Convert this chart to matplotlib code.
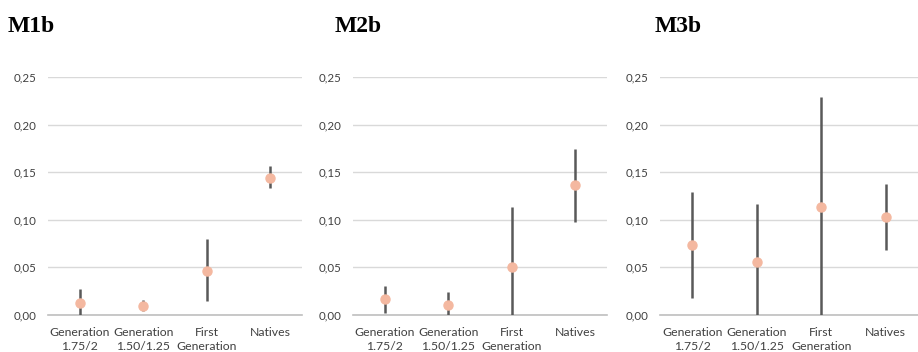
import matplotlib.pyplot as plt
import numpy as np

plt.rcParams['font.family'] = ['Lato', 'DejaVu Sans']

categories = ["Generation\n1.75/2", "Generation\n1.50/1.25", "First\nGeneration", "Natives"]
titles = ["M1b", "M2b", "M3b"]

# point estimates and interval limits per model
m1_est = [0.0123, 0.0094, 0.0464, 0.1444]
m1_low = [0.0, 0.0042, 0.0147, 0.1339]
m1_high = [0.0270, 0.0157, 0.0797, 0.1560]

m2_est = [0.0164, 0.0108, 0.0500, 0.1366]
m2_low = [0.0017, 0.0, 0.0, 0.0978]
m2_high = [0.0307, 0.0245, 0.1136, 0.1748]

m3_est = [0.0734, 0.0559, 0.1136, 0.1031]
m3_low = [0.0175, 0.0, 0.0, 0.0681]
m3_high = [0.1290, 0.1170, 0.2289, 0.1373]

yticks = [0.0, 0.05, 0.10, 0.15, 0.20, 0.25]

W, H = 918, 352
fig = plt.figure(figsize=(W / 100, H / 100), dpi=100)

# axes extents in pixels: left, right
extents = [(48, 302), (353, 607), (660, 918)]
title_x = [8, 335, 655]
y_bottom, y_top = 315, 77

models = [(m1_est, m1_low, m1_high), (m2_est, m2_low, m2_high), (m3_est, m3_low, m3_high)]

for i, (est, low, high) in enumerate(models):
    l, r = extents[i]
    ax = fig.add_axes([l / W, (H - y_bottom) / H, (r - l) / W, (y_bottom - y_top) / H])
    x = np.arange(len(categories))
    est = np.array(est)
    yerr = [est - np.array(low), np.array(high) - est]
    ax.errorbar(x, est, yerr=yerr, fmt='o', color='#f4b8a0', ecolor='#595959',
                elinewidth=1.8, capsize=0, markersize=6.5, zorder=3)
    ax.set_xlim(-0.5, len(categories) - 0.5)
    ax.set_ylim(0, 0.25)
    ax.set_yticks(yticks)
    ax.set_yticklabels([f"{v:.2f}".replace('.', ',') for v in yticks])
    ax.set_xticks(x)
    ax.set_xticklabels(categories, fontsize=8.8, linespacing=1.3)
    ax.tick_params(length=0, colors='#404040')
    ax.tick_params(axis='x', pad=9)
    ax.tick_params(axis='y', pad=8, labelsize=8.3)
    ax.grid(axis='y', color='#d9d9d9', linewidth=1)
    ax.set_axisbelow(True)
    for s in ['top', 'right', 'left']:
        ax.spines[s].set_visible(False)
    ax.spines['bottom'].set_color('#bfbfbf')
    ax.spines['bottom'].set_linewidth(1.2)
    fig.text(title_x[i] / W, 1 - 32 / H, titles[i], family='Liberation Serif',
             fontweight='bold', fontsize=17, ha='left', va='baseline')

fig.savefig('out.png', dpi=100)
